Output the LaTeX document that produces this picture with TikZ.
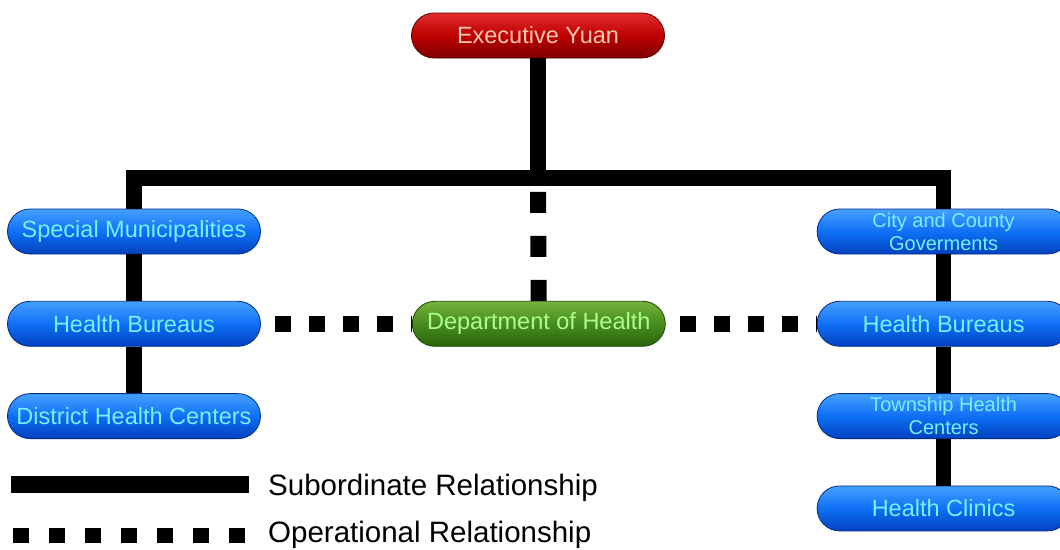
\documentclass[tikz,border=0pt]{standalone}
\usepackage{fontspec}
\setmainfont{Liberation Sans}
\usepackage{xcolor}
\usetikzlibrary{positioning, calc}
\definecolor{blueTop}{RGB}{70,160,255}
\definecolor{blueMid}{RGB}{15,112,245}
\definecolor{blueBot}{RGB}{0,65,190}
\definecolor{blueEdge}{RGB}{0,45,140}
\definecolor{blueText}{RGB}{120,240,255}
\definecolor{redTop}{RGB}{225,45,45}
\definecolor{redMid}{RGB}{190,0,0}
\definecolor{redBot}{RGB}{125,0,0}
\definecolor{redEdge}{RGB}{95,0,0}
\definecolor{redText}{RGB}{255,200,180}
\definecolor{greenTop}{RGB}{115,180,60}
\definecolor{greenMid}{RGB}{72,140,30}
\definecolor{greenBot}{RGB}{40,100,10}
\definecolor{greenEdge}{RGB}{30,75,5}
\definecolor{greenText}{RGB}{170,255,140}
\newcommand{\legendSub}{Subordinate Relationship}
\newcommand{\legendOps}{Operational Relationship}

\begin{document}
\begin{tikzpicture}[
  x=1pt, y=1pt,
  font=\fontsize{23.5}{26}\selectfont,
  box/.style={rounded corners=22.5pt, minimum width=253pt, minimum height=45pt, inner sep=0pt, align=center,
    text=blueText, top color=blueTop, bottom color=blueBot, middle color=blueMid, draw=blueEdge, line width=0.8pt},
  redbox/.style={box, text=redText, top color=redTop, bottom color=redBot, middle color=redMid, draw=redEdge},
  greenbox/.style={box, text=greenText, top color=greenTop, bottom color=greenBot, middle color=greenMid, draw=greenEdge},
  twoline/.style={font=\fontsize{20}{23}\selectfont},
  sub/.style={line width=15.5pt, line join=miter},
  ops/.style={line width=16pt, dash pattern=on 16pt off 18pt, dash phase=20pt},
  opsv/.style={line width=16pt, dash pattern=on 21pt off 23pt},
  legops/.style={line width=15.5pt, dash pattern=on 15.5pt off 20.5pt},
  legtext/.style={font=\fontsize{29.5}{33}\selectfont, anchor=base west, inner sep=0pt},
  node distance=46.5pt and 151pt
]
\useasboundingbox (0,0) rectangle (1060,-549);

% top
\node[redbox] (exec) at (538,-35.5) {Executive Yuan};

% left column
\node[box] (spec) at (134,-231.5) {Special Municipalities};
\node[box, below=of spec] (hbL) {Health Bureaus};
\node[box, below=of hbL] (dist) {District Health Centers};

% middle
\node[greenbox, right=of hbL] (dept) {Department of Health};

% right column
\node[box, right=of dept] (hbR) {Health Bureaus};
\node[box, twoline, above=of hbR] (city) {City and County\\Goverments};
\node[box, twoline, below=of hbR] (town) {Township Health\\Centers};
\node[box, below=of town] (clinic) {Health Clinics};

% subordinate lines
\coordinate (barY) at (0,-178);
\coordinate (bar) at (exec |- barY);
\draw[sub] (exec) -- (bar);
\draw[sub] (spec) -- (spec |- bar) -- (city |- bar) -- (city);
\draw[sub] (spec) -- (hbL);
\draw[sub] (hbL) -- (dist);
\draw[sub] (city) -- (hbR);
\draw[sub] (hbR) -- (town);
\draw[sub] (town) -- (clinic);

% operational lines
\draw[opsv] (dept) -- (bar);
\draw[ops] (hbL) -- (dept);
\draw[ops] (dept) -- (hbR);

% legend
\coordinate (subA) at (11,-484.5);
\coordinate (subB) at (249,-484.5);
\draw[line width=17pt] (subA) -- (subB);
\node[legtext] (subTxt) at (268,-495) {\legendSub};
\coordinate (opsA) at (13,-535.5);
\coordinate (opsB) at (245,-535.5);
\draw[legops] (opsA) -- (opsB);
\node[legtext] (opsTxt) at (268,-542.5) {\legendOps};

\end{tikzpicture}
\end{document}
